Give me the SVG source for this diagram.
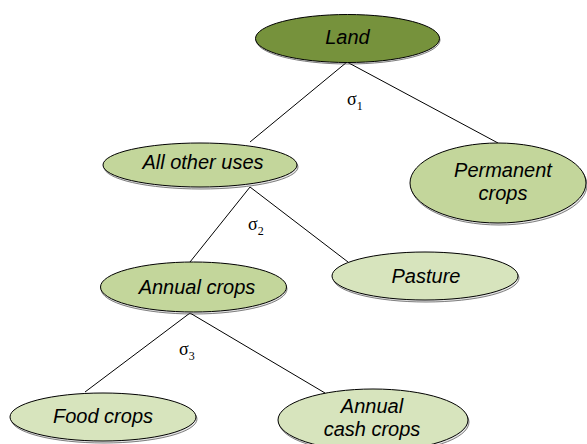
<svg xmlns="http://www.w3.org/2000/svg" width="587" height="444" viewBox="0 0 587 444">
<style>
.node ellipse{stroke:#000;stroke-width:1}
.shadow{fill:#d0d0d0;stroke:none;opacity:0.5}
.lbl{font-family:"Liberation Sans",Arial,sans-serif;font-style:italic;font-size:20px;fill:#000;text-anchor:middle}
.conn line{stroke:#000;stroke-width:1}
.sig{font-family:"Liberation Serif","Times New Roman",serif;font-size:18px;fill:#000}
.sub{font-size:12px}
.dark{fill:#76923C}
.mid{fill:#C3D69B}
.light{fill:#D7E4BD}
</style>
<rect width="587" height="444" fill="#fff"/>
<g id="connectors" class="conn">
<line x1="347" y1="62" x2="250" y2="142"/>
<line x1="347" y1="62" x2="498" y2="143"/>
<line x1="250" y1="187" x2="190" y2="262"/>
<line x1="250" y1="187" x2="348" y2="262"/>
<line x1="190" y1="313" x2="85" y2="392"/>
<line x1="190" y1="313" x2="325" y2="393"/>
</g>
<g id="sigma1"><text class="sig" x="347" y="105">σ<tspan class="sub" dy="5">1</tspan></text></g>
<g id="sigma2"><text class="sig" x="248" y="230">σ<tspan class="sub" dy="5">2</tspan></text></g>
<g id="sigma3"><text class="sig" x="179" y="355">σ<tspan class="sub" dy="5">3</tspan></text></g>
<g id="land" class="node">
<ellipse class="shadow" cx="348" cy="40" rx="92" ry="24"/>
<ellipse class="dark" cx="347.5" cy="38.5" rx="92" ry="24"/>
<text class="lbl" x="347.5" y="44" font-size="21">Land</text>
</g>
<g id="all-other-uses" class="node">
<ellipse class="shadow" cx="201" cy="167" rx="97" ry="22"/>
<ellipse class="mid" cx="200" cy="165" rx="97" ry="22"/>
<text class="lbl" x="203" y="169">All other uses</text>
</g>
<g id="permanent-crops" class="node">
<ellipse class="shadow" cx="499" cy="185" rx="88" ry="40"/>
<ellipse class="mid" cx="498" cy="183" rx="88" ry="40"/>
<text class="lbl" x="503" y="177">Permanent</text>
<text class="lbl" x="503" y="200">crops</text>
</g>
<g id="pasture" class="node">
<ellipse class="shadow" cx="426" cy="278" rx="93" ry="24"/>
<ellipse class="light" cx="425" cy="276" rx="93" ry="24"/>
<text class="lbl" x="426" y="283">Pasture</text>
</g>
<g id="annual-crops" class="node">
<ellipse class="shadow" cx="194" cy="289" rx="93" ry="25"/>
<ellipse class="mid" cx="193.5" cy="287" rx="93" ry="25"/>
<text class="lbl" x="197" y="294">Annual crops</text>
</g>
<g id="food-crops" class="node">
<ellipse class="shadow" cx="104" cy="419" rx="93" ry="24"/>
<ellipse class="light" cx="103" cy="417" rx="93" ry="24"/>
<text class="lbl" x="103" y="423">Food crops</text>
</g>
<g id="annual-cash-crops" class="node">
<ellipse class="shadow" cx="374" cy="422" rx="95" ry="31"/>
<ellipse class="light" cx="373" cy="420" rx="95" ry="31"/>
<text class="lbl" x="372" y="413">Annual</text>
<text class="lbl" x="372" y="436">cash crops</text>
</g>
</svg>
